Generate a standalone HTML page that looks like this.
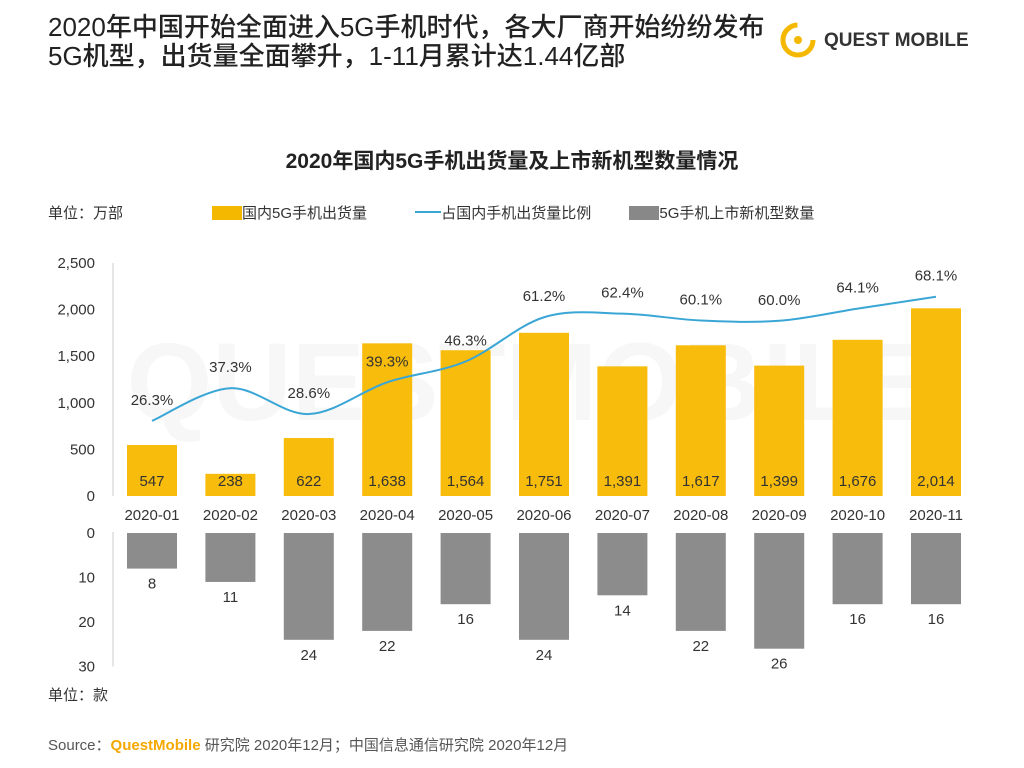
<!DOCTYPE html>
<html><head><meta charset="utf-8">
<style>
body{margin:0;background:#fff;width:1024px;height:768px;overflow:hidden;font-family:"Liberation Sans","Noto Sans CJK SC",sans-serif;}
.t{position:absolute;}
</style></head><body>
<div class="t" style="left:48px;top:13px;font-size:26px;line-height:29px;color:#222;font-weight:500;">2020年中国开始全面进入5G手机时代，各大厂商开始纷纷发布<br>5G机型，出货量全面攀升，1-11月累计达1.44亿部</div>
<div class="t" style="left:778px;top:18px;width:200px;height:44px;">
 <svg width="50" height="44"><circle cx="20" cy="22" r="15" fill="none" stroke="#f5b800" stroke-width="5" stroke-dasharray="70 25"/><circle cx="20" cy="22" r="4" fill="#f5b800"/></svg>
 <span style="position:absolute;left:46px;top:12px;font-size:19px;font-weight:bold;color:#333;">QUEST MOBILE</span>
</div>
<div class="t" style="left:0;width:1024px;text-align:center;top:145px;font-size:21px;font-weight:bold;color:#222;">2020年国内5G手机出货量及上市新机型数量情况</div>
<div class="t" style="left:48px;top:202px;font-size:15px;color:#333;">单位：万部</div>
<div class="t" style="left:48px;top:684px;font-size:15px;color:#333;">单位：款</div>
<div class="t" style="left:212px;top:202px;font-size:15px;color:#333;">
 <span><span style="display:inline-block;width:30px;height:14px;background:#f5b800;vertical-align:-2px"></span>国内5G手机出货量</span>
 <span style="margin-left:44px"><span style="display:inline-block;width:26px;height:2px;background:#3aa6d6;vertical-align:5px"></span>占国内手机出货量比例</span>
 <span style="margin-left:34px"><span style="display:inline-block;width:30px;height:14px;background:#888;vertical-align:-2px"></span>5G手机上市新机型数量</span>
</div>
<div class="t" style="left:48px;top:734px;font-size:15px;color:#555;">Source：<span style="color:#f5a800;font-weight:bold">QuestMobile</span> 研究院 2020年12月；中国信息通信研究院 2020年12月</div>
<svg id="c" class="t" style="left:0;top:0" width="1024" height="768">
<text x="530" y="420" text-anchor="middle" font-size="110" font-weight="bold" fill="#f7f7f7">QUESTMOBILE</text>
</svg>
<script>
const categories=["2020-01","2020-02","2020-03","2020-04","2020-05","2020-06","2020-07","2020-08","2020-09","2020-10","2020-11"];
const shipments=[547,238,622,1638,1564,1751,1391,1617,1399,1676,2014];
const ratios=[26.3,37.3,28.6,39.3,46.3,61.2,62.4,60.1,60.0,64.1,68.1];
const models=[8,11,24,22,16,24,14,22,26,16,16];
const yTicks=[0,500,1000,1500,2000,2500];
const mTicks=[0,10,20,30];
const svg=document.getElementById('c');const NS='http://www.w3.org/2000/svg';
function mk(t,a,p){const e=document.createElementNS(NS,t);for(const k in a)e.setAttribute(k,a[k]);(p||svg).appendChild(e);return e;}
const xc=i=>152+i*78.4;
const y1=v=>496-v*0.0932;
const y2=v=>533+v*4.45;
const yr=p=>499-p*2.97;
yTicks.forEach(v=>{const t=mk('text',{x:95,y:y1(v)+5,'text-anchor':'end','font-size':15,fill:'#333'});t.textContent=v.toLocaleString('en-US');

});
mTicks.forEach(v=>{const t=mk('text',{x:95,y:y2(v)+5,'text-anchor':'end','font-size':15,fill:'#333'});t.textContent=v;

});
const ax=mk('line',{x1:113,x2:113,y1:y1(2500),y2:496,stroke:'#ccc'});


const ax2=mk('line',{x1:113,x2:113,y1:532,y2:y2(30),stroke:'#ccc'});


categories.forEach((c,i)=>{
 const x=xc(i);
 const b=mk('rect',{x:x-25,y:y1(shipments[i]),width:50,height:496-y1(shipments[i]),fill:'#f7bc0c'});
 
 
 const v=mk('text',{x:x,y:486,'text-anchor':'middle','font-size':15,fill:'#333'});v.textContent=shipments[i].toLocaleString('en-US');
 
 
 const l=mk('text',{x:x,y:520,'text-anchor':'middle','font-size':15,fill:'#333'});l.textContent=c;
 
 
 const m=mk('rect',{x:x-25,y:533,width:50,height:y2(models[i])-533,fill:'#8c8c8c'});
 
 
 const mv=mk('text',{x:x,y:y2(models[i])+20,'text-anchor':'middle','font-size':15,fill:'#333'});mv.textContent=models[i];
 
 
});
const pts=ratios.map((p,i)=>[xc(i),yr(p)]);
let d='M'+pts[0][0]+','+pts[0][1];
for(let i=0;i<pts.length-1;i++){const p0=pts[Math.max(0,i-1)],p1=pts[i],p2=pts[i+1],p3=pts[Math.min(pts.length-1,i+2)];
d+=' C'+(p1[0]+(p2[0]-p0[0])/6)+','+(p1[1]+(p2[1]-p0[1])/6)+' '+(p2[0]-(p3[0]-p1[0])/6)+','+(p2[1]-(p3[1]-p1[1])/6)+' '+p2[0]+','+p2[1];}
const ln=mk('path',{d:d,fill:'none',stroke:'#3aa6d6','stroke-width':2});


ratios.forEach((p,i)=>{const t=mk('text',{x:xc(i),y:yr(p)-16,'text-anchor':'middle','font-size':15,fill:'#333'});t.textContent=p.toFixed(1)+'%';

});
</script>
</body></html>
